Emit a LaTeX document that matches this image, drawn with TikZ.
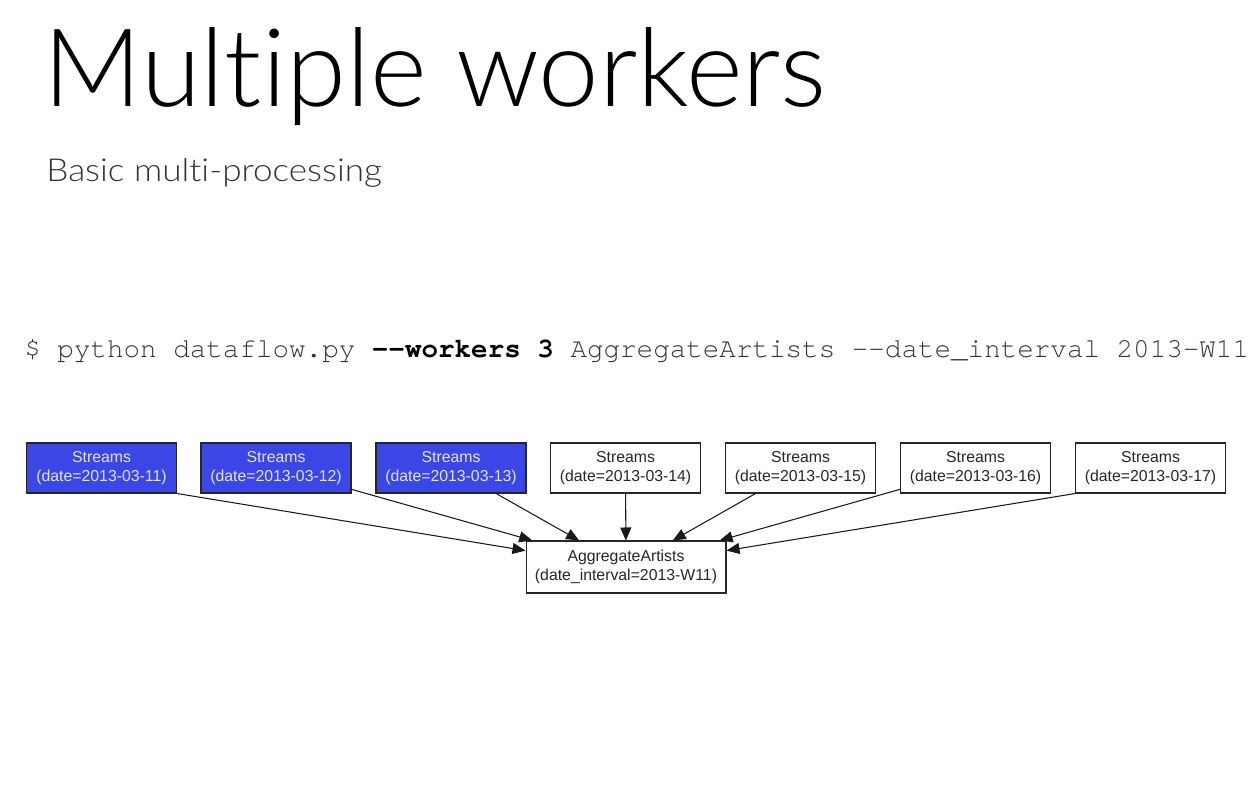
\documentclass[tikz,border=0pt]{standalone}
\usepackage{fontspec}
\usetikzlibrary{arrows.meta}
\newfontfamily\titlefont{Lato Light}[Ligatures=NoCommon]
\newfontfamily\subtitlefont{Lato Light}[Ligatures=NoCommon,FakeStretch=1.11]
\newfontfamily\boxfont{Liberation Sans}
\setmonofont{TeX Gyre Cursor}[Ligatures=NoCommon]
\definecolor{workerblue}{HTML}{3A46E6}
\definecolor{cmdgray}{HTML}{333333}

\begin{document}
\begin{tikzpicture}[x=0.02cm,y=-0.02cm,
  task/.style={shape=rectangle,draw=black!85,line width=0.6pt,minimum width=3cm,minimum height=1cm,inner sep=0pt,align=center,font=\boxfont\fontsize{9}{11}\selectfont,text=black!85},
  running/.style={task,fill=workerblue,text=white!90!blue},
  edge/.style={-{Triangle[length=2.6mm,width=2.2mm]},line width=0.6pt,draw=black!90}]
\useasboundingbox (0,0) rectangle (1256,794);
%[title and command]
\path (43,107) node (title) [anchor=base west,inner sep=0pt] {\titlefont\fontsize{61.8}{70}\selectfont Multiple workers};
\path (46,181) node (subtitle) [anchor=base west,inner sep=0pt,text=black!80] {\subtitlefont\fontsize{18}{22}\selectfont Basic multi-processing};
\path (24,357) node (cmd) [anchor=base west,inner sep=0pt,text=cmdgray] {\ttfamily\fontsize{15.7}{18}\selectfont \$ python dataflow.py \textcolor{black}{\bfseries -{}-workers 3} AggregateArtists -{}-date\_interval 2013-W11};

\path (101.5,468) node (s11) [running] {Streams\\(date=2013-03-11)};
\path (276,468) node (s12) [running] {Streams\\(date=2013-03-12)};
\path (451,468) node (s13) [running] {Streams\\(date=2013-03-13)};
\path (625.5,468) node (s14) [task] {Streams\\(date=2013-03-14)};
\path (800.5,468) node (s15) [task] {Streams\\(date=2013-03-15)};
\path (975.5,468) node (s16) [task] {Streams\\(date=2013-03-16)};
\path (1150.5,468) node (s17) [task] {Streams\\(date=2013-03-17)};
\path (626,567) node (agg) [task,minimum width=4cm,minimum height=1.04cm] {AggregateArtists\\(date\_interval=2013-W11)};

\draw [edge] (s11.south east) to (agg);
\draw [edge] (s12) to (agg);
\draw [edge] (s13) to (agg);
\draw [edge] (s14) to (agg);
\draw [edge] (s15) to (agg);
\draw [edge] (s16) to (agg);
\draw [edge] (s17.south west) to (agg);
\end{tikzpicture}
\end{document}
